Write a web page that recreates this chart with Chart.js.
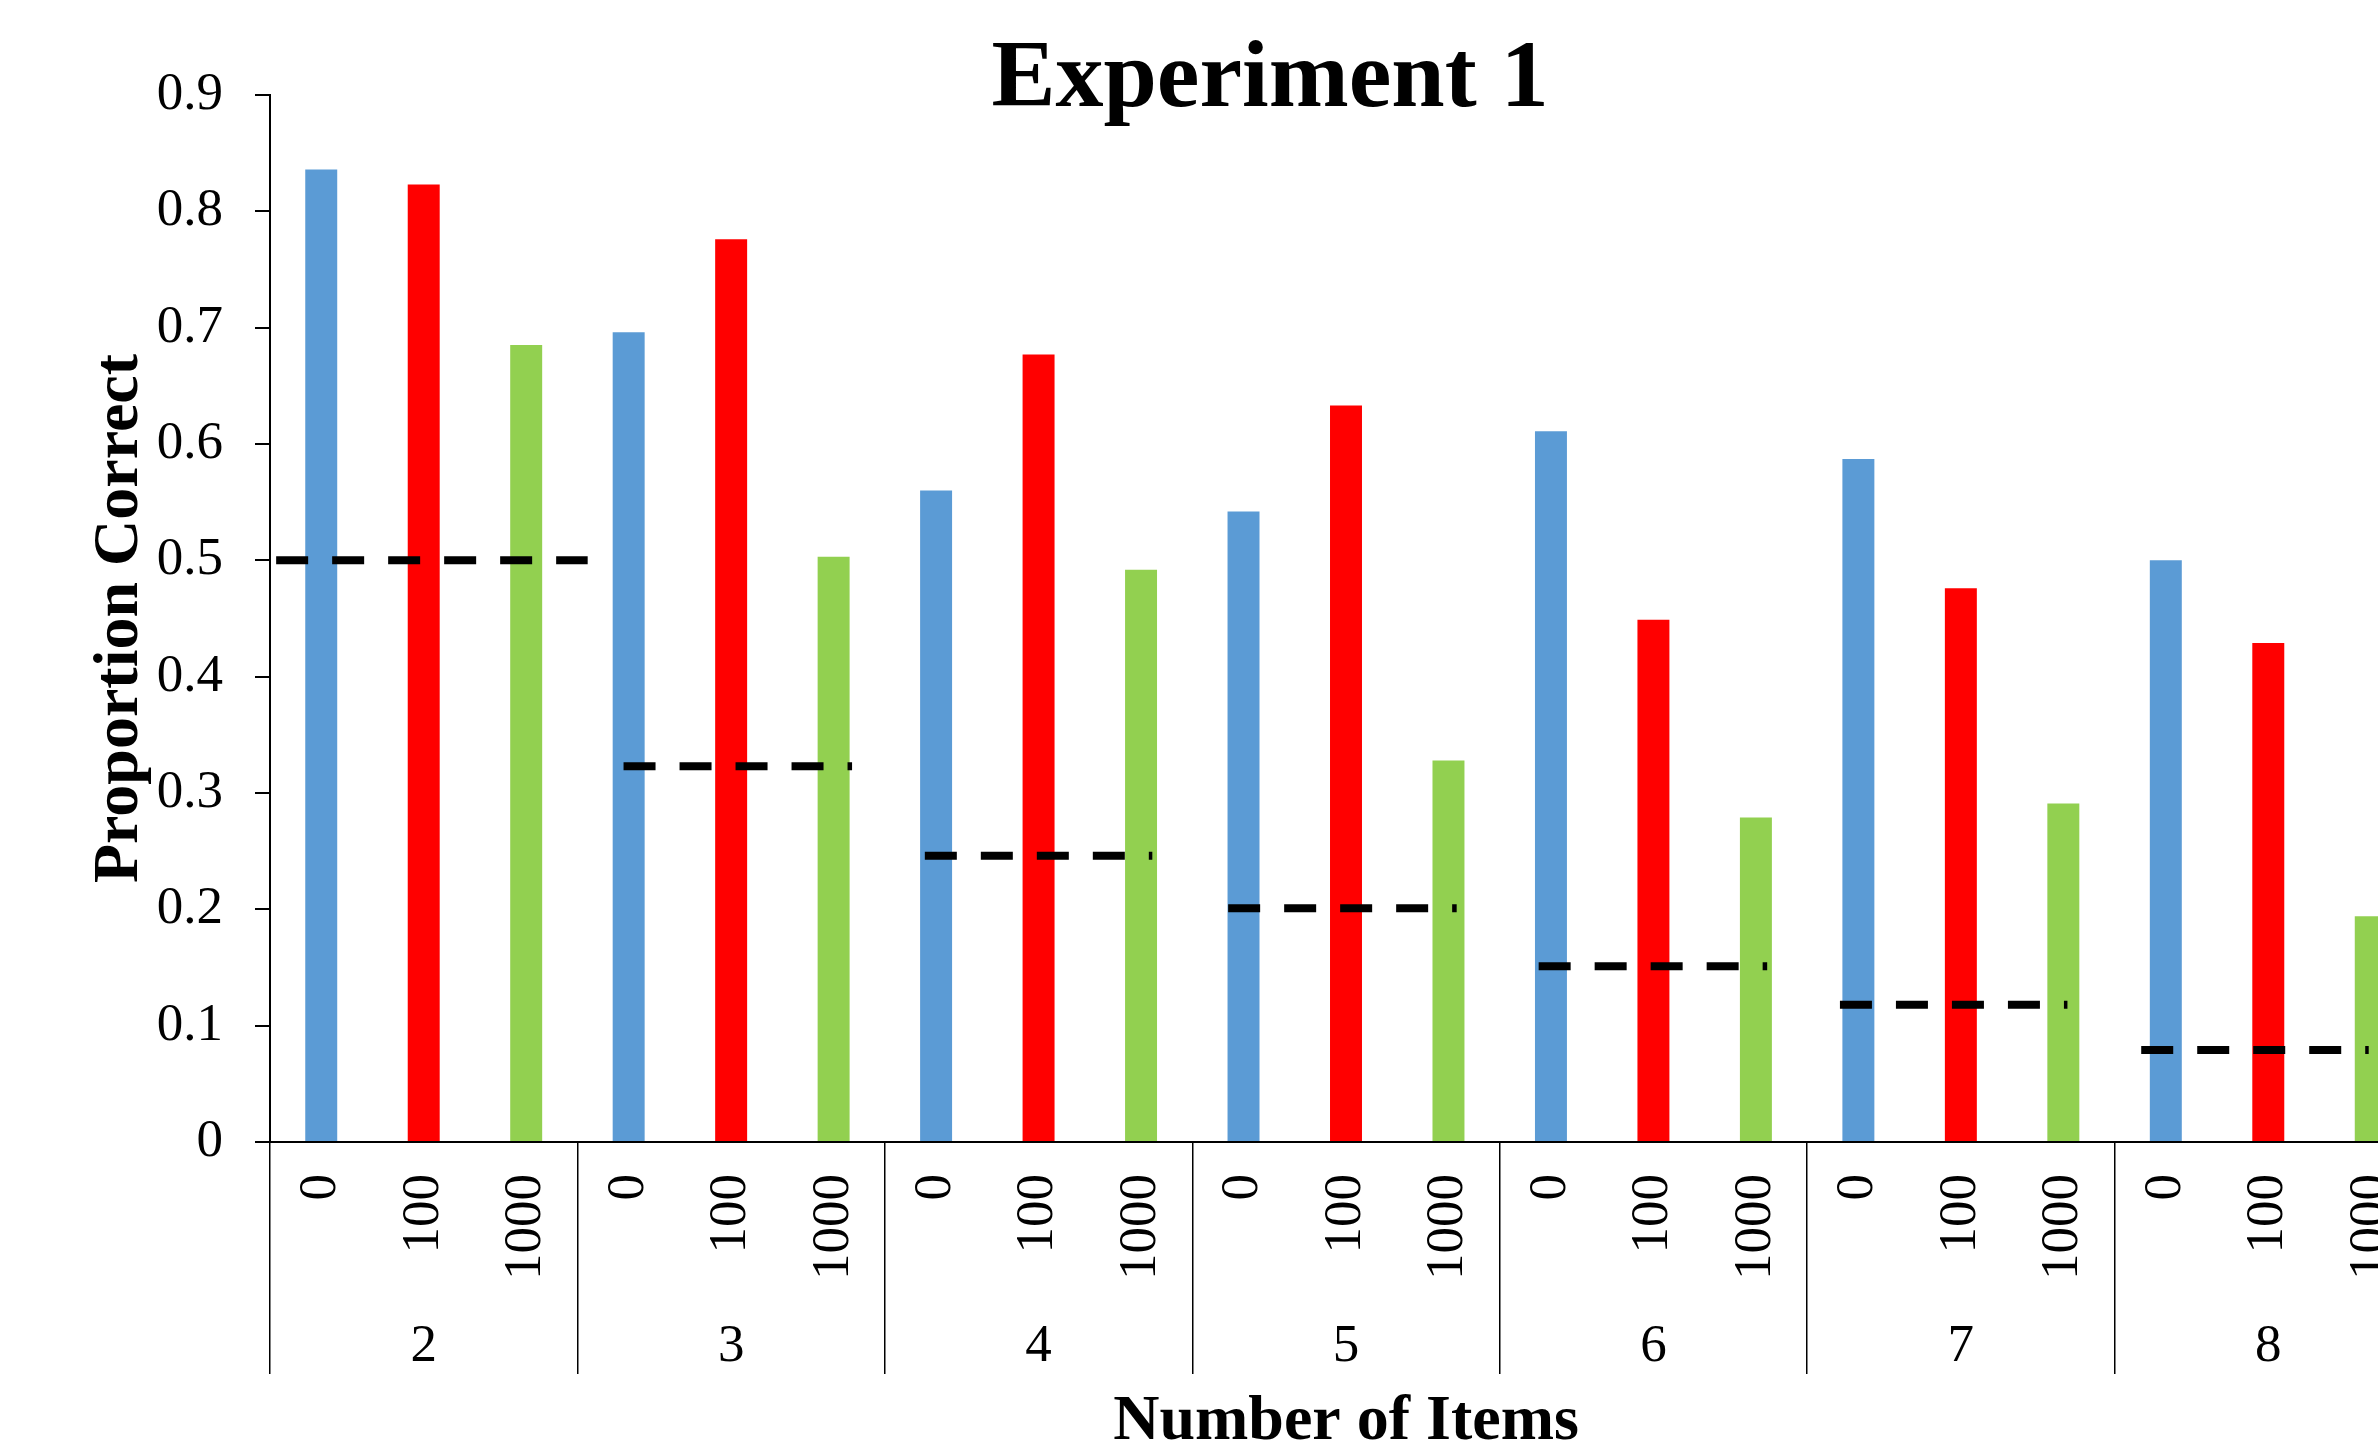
<!DOCTYPE html>
<html>
<head>
<meta charset="utf-8">
<title>Experiment 1</title>
<script src="https://cdn.jsdelivr.net/npm/chart.js@4.4.1/dist/chart.umd.min.js"></script>
<style>
  html, body { margin: 0; padding: 0; background: #fff; overflow: hidden; }
  #wrap { width: 2378px; height: 1453px; overflow: hidden; }
  canvas { display: block; }
</style>
</head>
<body>
<div id="wrap"><canvas id="chart" width="2540" height="1453"></canvas></div>
<script>
// Number of items in the display (outer category) and delay condition (inner category)
const groupLabels = ['2', '3', '4', '5', '6', '7', '8'];
const delayLabels = ['0', '100', '1000'];

// Proportion correct per number of items, one array per delay condition
const correct0    = [0.836, 0.696, 0.560, 0.542, 0.611, 0.587, 0.500];
const correct100  = [0.823, 0.776, 0.677, 0.633, 0.449, 0.476, 0.429];
const correct1000 = [0.685, 0.503, 0.492, 0.328, 0.279, 0.291, 0.194];

// Chance level per number of items, with the extent of each reference line
// given in category-index units along the inner axis
const chanceLevel = [0.500, 0.323, 0.246, 0.201, 0.151, 0.118, 0.079];
const chanceFrom  = [-0.44, 2.95, 5.89, 8.85, 11.88, 14.82, 17.76];
const chanceTo    = [2.60, 5.18, 8.11, 11.08, 14.11, 17.04, 19.98];

const seriesColors = ['#5B9BD5', '#FF0000', '#92D050'];
const serif = '"Liberation Serif", "Times New Roman", serif';

Chart.defaults.font.family = serif;
Chart.defaults.color = '#000';

// One slot per (items, delay) pair
const categoryLabels = groupLabels.flatMap(() => delayLabels);
const spread = (values, slot) =>
  categoryLabels.map((_, i) => (i % 3 === slot ? values[Math.floor(i / 3)] : null));

const barSets = [correct0, correct100, correct1000].map((vals, k) => ({
  type: 'bar',
  label: delayLabels[k],
  data: spread(vals, k),
  backgroundColor: seriesColors[k],
  grouped: false,
  barPercentage: 0.312,
  categoryPercentage: 1,
  xAxisID: 'x',
  yAxisID: 'y',
  order: 2
}));

const chanceSets = chanceLevel.map((v, g) => ({
  type: 'line',
  label: 'chance ' + groupLabels[g],
  data: [{ x: chanceFrom[g], y: v }, { x: chanceTo[g], y: v }],
  borderColor: '#000',
  borderWidth: 8,
  borderDash: [32, 24],
  borderCapStyle: 'butt',
  pointRadius: 0,
  fill: false,
  tension: 0,
  xAxisID: 'xl',
  yAxisID: 'y',
  order: 1
}));

new Chart(document.getElementById('chart'), {
  type: 'bar',
  data: { labels: categoryLabels, datasets: [...barSets, ...chanceSets] },
  options: {
    responsive: false,
    animation: false,
    devicePixelRatio: 1,
    layout: { padding: 0 },
    plugins: {
      legend: { display: false },
      tooltip: { enabled: false },
      title: {
        display: true,
        text: 'Experiment 1',
        color: '#000',
        font: { family: serif, size: 96, weight: 'bold', lineHeight: 1.2 },
        padding: { top: 24, bottom: -44.2 }
      }
    },
    scales: {
      x: {
        type: 'category',
        position: 'bottom',
        weight: 0,
        offset: true,
        grid: {
          offset: true,
          drawOnChartArea: false,
          drawTicks: true,
          tickLength: 232,
          lineWidth: 1.5,
          color: ctx => (ctx.index !== undefined && ctx.index % 3 === 0 ? '#000' : 'rgba(0,0,0,0)')
        },
        border: { display: true, color: '#000', width: 2 },
        ticks: {
          autoSkip: false,
          minRotation: 90,
          maxRotation: 90,
          padding: -200,
          color: '#000',
          font: { family: serif, size: 53 }
        },
        afterFit: s => { s.height = 160; }
      },
      xg: {
        type: 'category',
        position: 'bottom',
        weight: 1,
        labels: groupLabels,
        offset: true,
        grid: { display: false, drawTicks: false },
        border: { display: false },
        ticks: {
          autoSkip: false,
          maxRotation: 0,
          padding: 13,
          color: '#000',
          font: { family: serif, size: 53 }
        },
        title: {
          display: true,
          text: 'Number of Items',
          color: '#000',
          font: { family: serif, size: 64, weight: 'bold', lineHeight: 1 },
          padding: { top: 0, bottom: -1 }
        },
        afterFit: s => { s.height = 151; }
      },
      xl: {
        type: 'linear',
        display: false,
        offset: false,
        grid: { offset: false },
        min: -0.5,
        max: 20.5
      },
      y: {
        type: 'linear',
        position: 'left',
        min: 0,
        max: 0.9,
        ticks: {
          stepSize: 0.1,
          padding: 32,
          color: '#000',
          font: { family: serif, size: 53 },
          callback: v => String(Math.round(v * 10) / 10)
        },
        grid: {
          drawOnChartArea: false,
          drawTicks: true,
          tickLength: 15,
          color: '#000',
          lineWidth: 2
        },
        border: { display: true, color: '#000', width: 2 },
        title: {
          display: true,
          text: 'Proportion Correct',
          color: '#000',
          font: { family: serif, size: 64, weight: 'bold', lineHeight: 1.2 },
          padding: { top: 82, bottom: 0 }
        },
        afterFit: s => { s.width = 270; }
      },
      yr: {
        type: 'linear',
        position: 'right',
        display: true,
        ticks: { display: false },
        grid: { display: false, drawTicks: false },
        border: { display: false },
        afterFit: s => { s.width = 118; }
      }
    }
  }
});
</script>
</body>
</html>
